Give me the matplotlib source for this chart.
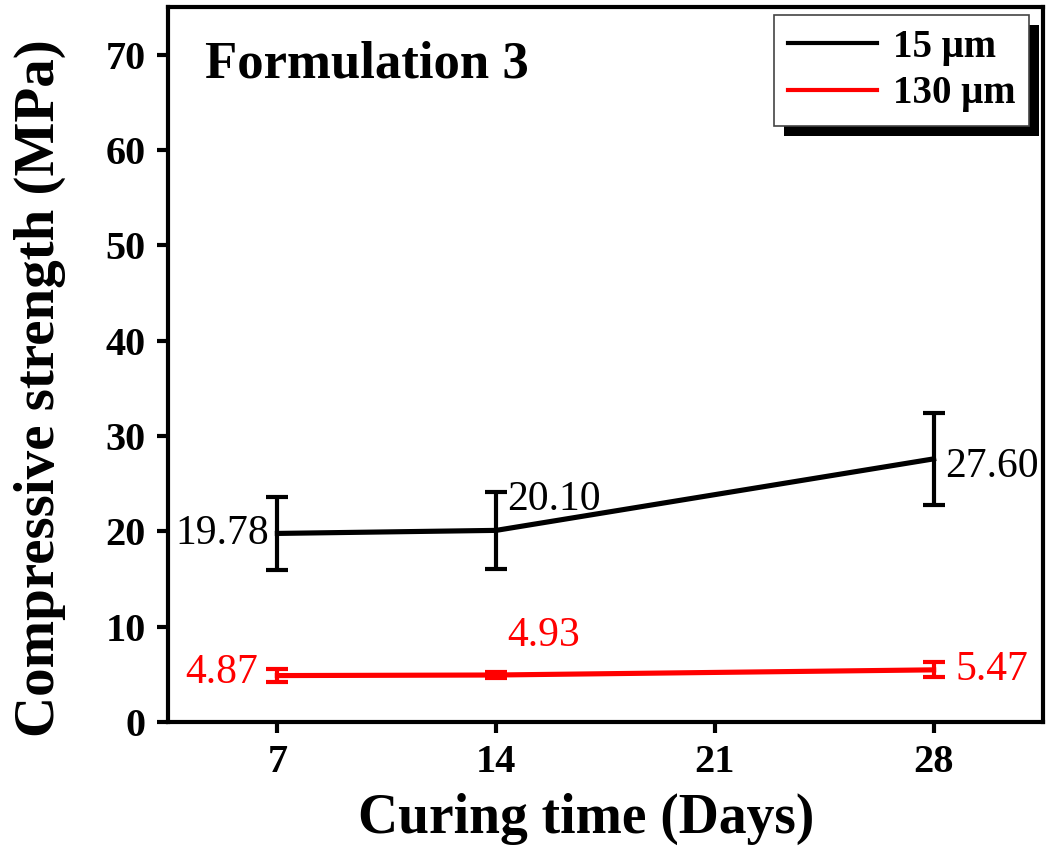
import matplotlib
matplotlib.use("Agg")
import matplotlib.pyplot as plt
from matplotlib.patches import Rectangle
from matplotlib.lines import Line2D
from matplotlib.transforms import IdentityTransform

days = [7, 14, 28]
s15 = [19.78, 20.10, 27.60]
s15_err = [3.8, 4.0, 4.85]
s130 = [4.87, 4.93, 5.47]
s130_err = [0.72, 0.35, 0.78]
labels15 = ["19.78", "20.10", "27.60"]
labels130 = ["4.87", "4.93", "5.47"]
series_names = ["15 μm", "130 μm"]
series_colors = ["black", "red"]
xticks = [7, 14, 21, 28]
yticks = [0, 10, 20, 30, 40, 50, 60, 70]

plt.rcParams['font.family'] = ['Liberation Serif', 'DejaVu Serif']

W, H = 1046, 859
fig = plt.figure(figsize=(W/100, H/100), dpi=100)
ax = fig.add_axes([168/W, 1-722/H, (1043-168)/W, (722-7)/H])

ax.errorbar(days, s15, yerr=s15_err, color=series_colors[0], lw=3.7, elinewidth=3, capsize=8, capthick=3)
ax.errorbar(days, s130, yerr=s130_err, color=series_colors[1], lw=3.7, elinewidth=3, capsize=8, capthick=3)

ax.set_xlim(3.5, 31.5)
ax.set_ylim(0, 75)
ax.set_xticks(xticks)
ax.set_yticks(yticks)
ax.set_xticklabels([str(t) for t in xticks], fontsize=29, fontweight='bold')
ax.set_yticklabels([str(t) for t in yticks], fontsize=29, fontweight='bold')
ax.tick_params(direction='out', length=8, width=3, pad=8)
for sp in ax.spines.values():
    sp.set_linewidth(3)

ax.set_xlabel('Curing time (Days)', fontsize=40, fontweight='bold')
ax.xaxis.set_label_coords((586-168)/(1043-168), -(845-722)/(722-7))
ax.xaxis.label.set_va('bottom')
ax.set_ylabel('Compressive strength (MPa)', fontsize=41, fontweight='bold')
ax.yaxis.set_label_coords(-(168-14)/(1043-168), (722-388)/(722-7))
ax.yaxis.label.set_va('top')

ax.text(205, H-78, 'Formulation 3', transform=IdentityTransform(), fontsize=38, fontweight='bold')

# data labels
off15 = [(-6, 0, 'right', 'center'), (8, 22, 'left', 'center'), (8, -6, 'left', 'center')]
for x, y, t, (dx, dy, ha, va) in zip(days, s15, labels15, off15):
    ax.annotate(t, (x, y), xytext=(dx, dy), textcoords='offset points', ha=ha, va=va, fontsize=30, color='black')
off130 = [(-14, 2, 'right', 'center'), (8, 28, 'left', 'center'), (16, 0, 'left', 'center')]
for x, y, t, (dx, dy, ha, va) in zip(days, s130, labels130, off130):
    ax.annotate(t, (x, y), xytext=(dx, dy), textcoords='offset points', ha=ha, va=va, fontsize=30, color='red')

handles = [Line2D([], [], color=c, lw=3) for c in series_colors]
leg = ax.legend(handles, series_names, loc='upper right', bbox_to_anchor=(1029/W, 1-15/H),
                bbox_transform=fig.transFigure,
                prop={'size': 28, 'weight': 'bold'}, frameon=True, fancybox=False,
                edgecolor='#444444', handlelength=2.3, handletextpad=0.4, borderpad=0.35,
                labelspacing=0.25, borderaxespad=0)
leg.get_frame().set_linewidth(1.2)
leg.get_frame().set_alpha(1)
leg.set_zorder(6)

fig.canvas.draw()
bb = leg.get_window_extent()
shadow = Rectangle((bb.x0 + 10, bb.y0 - 10), bb.width, bb.height, transform=IdentityTransform(),
                   facecolor='black', edgecolor='none', zorder=5, clip_on=False)
ax.add_patch(shadow)

fig.savefig('out.png', dpi=100)
